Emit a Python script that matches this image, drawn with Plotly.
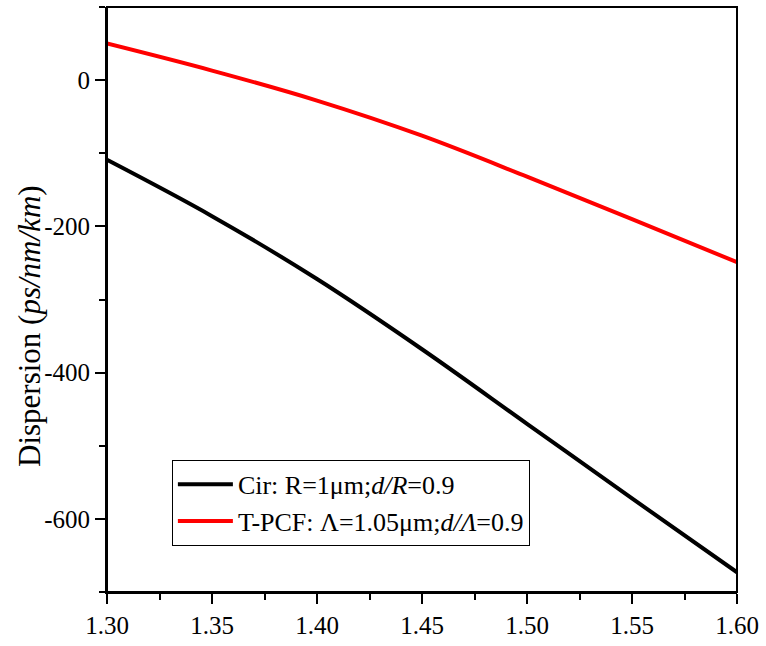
import plotly.graph_objects as go

wavelength = [1.30, 1.35, 1.40, 1.45, 1.50, 1.55, 1.60]
cir_dispersion = [-109, -186, -272, -368, -470, -572, -673]
tpcf_dispersion = [50, 13, -28, -76, -132, -190, -249]

y_tick_values = [0, -200, -400, -600]
y_tick_labels = ["0", "-200", "-400", "-600"]

cir_label = "Cir: R=1μm;<i>d/R</i>=0.9"
tpcf_label = "T-PCF: Λ=1.05μm;<i>d/Λ</i>=0.9"
y_title = "Dispersion (<i>ps/nm/km</i>)"

FONT = "Liberation Serif, Times New Roman, serif"

fig = go.Figure()
fig.add_trace(go.Scatter(x=wavelength, y=cir_dispersion, mode="lines",
                         line=dict(color="black", width=4, shape="spline"),
                         name=cir_label))
fig.add_trace(go.Scatter(x=wavelength, y=tpcf_dispersion, mode="lines",
                         line=dict(color="#ff0000", width=4, shape="spline"),
                         name=tpcf_label))

axis_common = dict(showline=True, linecolor="black", linewidth=2, mirror=False,
                   ticks="outside", ticklen=10, tickwidth=2, tickcolor="black",
                   showgrid=False, zeroline=False,
                   tickfont=dict(family=FONT, size=25, color="black"))

fig.update_xaxes(range=[1.30, 1.60], dtick=0.05, tick0=1.30, tickformat=".2f",
                 minor=dict(dtick=0.025, tick0=1.30, ticks="outside", ticklen=6,
                            tickwidth=2, tickcolor="black", showgrid=False),
                 **axis_common)
fig.update_yaxes(range=[-700, 100], tickmode="array",
                 tickvals=y_tick_values, ticktext=y_tick_labels,
                 minor=dict(tickmode="linear", dtick=100, tick0=0, ticks="outside",
                            ticklen=6, tickwidth=2, tickcolor="black",
                            showgrid=False),
                 **axis_common)

# frame (top/right spines without ticks)
fig.add_shape(type="rect", xref="paper", yref="paper", x0=0, y0=0, x1=1, y1=1,
              line=dict(color="black", width=2), layer="above")

fig.add_annotation(text=y_title, xref="paper", yref="paper",
                   x=-0.122, y=0.455, xanchor="center", yanchor="middle",
                   textangle=-90, showarrow=False,
                   font=dict(family=FONT, size=31, color="black"))

fig.update_layout(
    width=766, height=646,
    margin=dict(l=107, r=27, t=7, b=50),
    paper_bgcolor="white", plot_bgcolor="white",
    font=dict(family=FONT, color="black"),
    legend=dict(x=0.103, y=0.226, xanchor="left", yanchor="top",
                bordercolor="black", borderwidth=1, bgcolor="white",
                itemwidth=55,
                font=dict(family=FONT, size=26, color="black"),
                tracegroupgap=0),
)

fig.write_html("out.html")
